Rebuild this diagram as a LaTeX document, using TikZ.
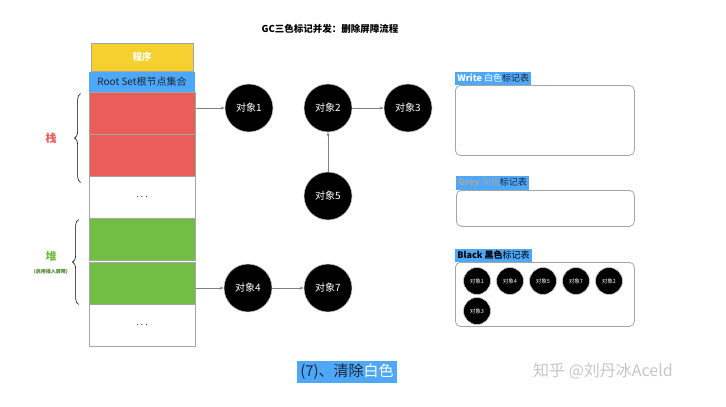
\documentclass[tikz,border=0pt]{standalone}
\usepackage{fontspec}
\setmainfont{Noto Sans CJK SC}
\usepackage{xcolor}
\usepackage{tikz}
\usetikzlibrary{arrows.meta}
\usetikzlibrary{decorations.pathreplacing}
\usetikzlibrary{backgrounds,positioning,calc}
\pgfdeclarelayer{edgelayer}
\pgfdeclarelayer{nodelayer}
\pgfsetlayers{background,edgelayer,nodelayer,main}
\definecolor{progyellow}{RGB}{246,208,47}
\definecolor{rootblue}{RGB}{78,167,247}
\definecolor{stackred}{RGB}{233,94,88}
\definecolor{heapgreen}{RGB}{114,190,68}
\definecolor{rimgrey}{RGB}{165,165,165}
\definecolor{textdark}{RGB}{30,40,60}
\tikzstyle{cell}=[draw=rimgrey,line width=0.8pt,minimum width=106pt,minimum height=42pt,inner sep=0pt]
\tikzstyle{obj}=[circle,fill=black,draw=rimgrey!60,line width=0.6pt,minimum size=48pt,inner sep=0pt,text=white,font=\fontsize{10}{12}\selectfont]
\tikzstyle{smallobj}=[obj,minimum size=27pt,font=\fontsize{5.5}{6}\selectfont]
\tikzstyle{edge}=[draw=gray,line width=0.6pt,-{Stealth[length=4pt,width=3pt]}]
\tikzstyle{tablebox}=[draw=rimgrey,line width=0.8pt,rounded corners=5pt]
\tikzstyle{tabletag}=[fill=rootblue,inner sep=2.2pt,anchor=south west,font=\fontsize{9}{11}\selectfont,text=textdark]
\tikzstyle{brace}=[decorate,decoration={brace,amplitude=6pt},line width=0.6pt]

\begin{document}
\begin{tikzpicture}[x=1pt,y=-1pt]
	\useasboundingbox (0,0) rectangle (726,407);
	\begin{pgfonlayer}{nodelayer}
		\node [font=\bfseries\fontsize{9.5}{11}\selectfont] (title) at (330,29) {GC三色标记并发：删除屏障流程};
		% program and root set
		\node [cell,fill=progyellow,minimum width=102pt,minimum height=28pt,text=white,font=\bfseries\fontsize{9.5}{11}\selectfont] (prog) at (142,57) {程序};
		\node [fill=rootblue,minimum width=106pt,minimum height=20pt,inner sep=0pt,text=textdark,font=\fontsize{10}{12}\selectfont] (root) at (142,82) {Root Set根节点集合};
		% stack and heap cells
		\node [cell,fill=stackred] (s1) at (142,113) {};
		\node [cell,fill=stackred] (s2) at (142,155) {};
		\node [cell] (s3) at (142,197) {$\cdots$};
		\node [cell,fill=heapgreen] (h1) at (142,239) {};
		\node [cell,fill=heapgreen] (h2) at (142,283) {};
		\node [cell] (h3) at (142,325) {$\cdots$};
		\node [text=stackred,font=\bfseries\fontsize{11}{12}\selectfont] (stacklbl) at (51,138) {栈};
		\node [text=heapgreen,font=\bfseries\fontsize{11}{12}\selectfont] (heaplbl) at (51,256) {堆};
		\node [text=heapgreen!70!black,font=\bfseries\fontsize{5}{6}\selectfont,below=1pt of heaplbl] (heapnote) {(启用插入屏障)};
		% objects
		\node [obj] (o1) at (249,108) {对象1};
		\node [obj] (o2) at (328,108) {对象2};
		\node [obj] (o3) at (408,108) {对象3};
		\node [obj] (o5) at (328,196) {对象5};
		\node [obj] (o4) at (248,288) {对象4};
		\node [obj] (o7) at (328,288) {对象7};
		% mark tables
		\node [tablebox,minimum width=179pt,minimum height=70pt,anchor=north west] (white) at (455,85) {};
		\node [tabletag] (whitetag) at (white.north west) {\textcolor{white}{\textbf{Write} 白色}标记表};
		\node [tablebox,minimum width=178pt,minimum height=36pt,anchor=north west] (grey) at (456,190) {};
		\node [tabletag] (greytag) at (grey.north west) {\textcolor{gray!70}{\textbf{Grey} 灰色}标记表};
		\node [tablebox,minimum width=179pt,minimum height=64pt,anchor=north west] (black) at (455,262) {};
		\node [tabletag,text=black] (blacktag) at (black.north west) {\textbf{Black 黑色}标记表};
		\node [smallobj] (b1) at (477,281) {对象1};
		\node [smallobj] (b4) at (510,281) {对象4};
		\node [smallobj] (b5) at (543,281) {对象5};
		\node [smallobj] (b7) at (576,281) {对象7};
		\node [smallobj] (b2) at (609,281) {对象2};
		\node [smallobj] (b3) at (477,311) {对象3};
		% step caption and mark
		\node [fill=rootblue,inner sep=3pt,text=textdark,font=\fontsize{15}{17}\selectfont] (step) at (347,372) {(7)、清除\textcolor{white}{白色}};
		\node [text=gray!45,font=\fontsize{16}{18}\selectfont] (mark) at (603,371) {知乎 @刘丹冰Aceld};
	\end{pgfonlayer}
	\begin{pgfonlayer}{edgelayer}
		\draw [edge] (s1.east |- o1) to (o1);
		\draw [edge] (o2) to (o3);
		\draw [edge] (o5) to (o2);
		\draw [edge] (h2.east |- o4) to (o4);
		\draw [edge] (o4) to (o7);
		\draw [brace] ($(s2.south west)+(-8,6)$) to ($(s1.north west)+(-8,2)$);
		\draw [brace] ($(h2.south west)+(-10,0)$) to ($(h1.north west)+(-10,2)$);
	\end{pgfonlayer}
\end{tikzpicture}
\end{document}
